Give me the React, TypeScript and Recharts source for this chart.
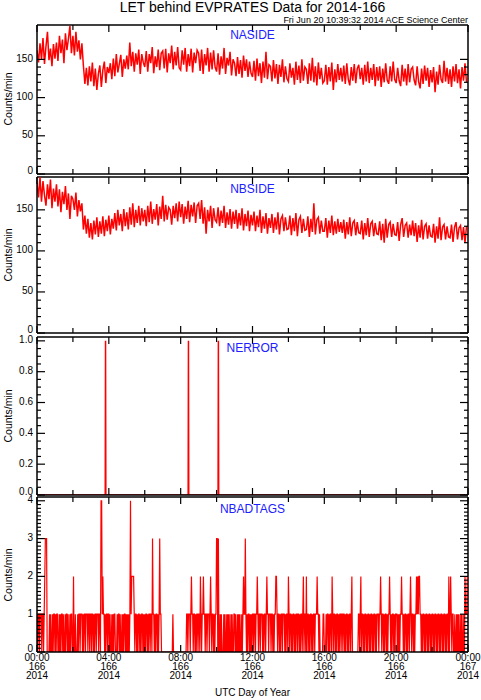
import React from "react";
import { Line, LineChart, ReferenceLine, XAxis, YAxis } from "recharts";

const WIDTH = 481;
const HEIGHT = 700;
const PLOT_LEFT = 37;
const PLOT_RIGHT = 468;
const PAD_TOP = 2;
const FONT = "'Liberation Sans', Arial, Helvetica, sans-serif";

const hourTicks = [0, 2, 4, 6, 8, 10, 12, 14, 16, 18, 20, 22, 24];
const hourLabels = ["00:00", "04:00", "08:00", "12:00", "16:00", "20:00", "00:00"];
const dayLabels = ["166", "166", "166", "166", "166", "166", "167"];
const yearLabels = ["2014", "2014", "2014", "2014", "2014", "2014", "2014"];

// NASIDE, 5 minute samples, one row per hour
const nasideByHour = [
  [162, 146, 171, 150, 178, 144, 167, 186, 149, 164, 141, 170],
  [151, 172, 148, 181, 158, 176, 145, 184, 162, 177, 194, 158],
  [181, 155, 186, 160, 175, 150, 171, 142, 118, 139, 116, 141],
  [121, 146, 115, 138, 110, 131, 142, 114, 136, 147, 119, 140],
  [132, 145, 124, 151, 128, 157, 133, 144, 156, 127, 150, 138],
  [155, 137, 172, 141, 160, 134, 158, 143, 163, 131, 157, 146],
  [140, 161, 134, 157, 145, 166, 132, 154, 140, 163, 136, 158],
  [161, 138, 164, 133, 158, 145, 168, 137, 160, 142, 166, 139],
  [136, 162, 143, 165, 134, 157, 141, 164, 133, 159, 145, 162],
  [158, 135, 163, 131, 157, 142, 165, 134, 159, 137, 162, 140],
  [134, 158, 130, 154, 138, 165, 131, 152, 142, 160, 129, 150],
  [145, 128, 153, 131, 149, 126, 155, 135, 150, 127, 147, 132],
  [127, 148, 122, 151, 128, 145, 119, 147, 126, 160, 124, 143],
  [141, 121, 149, 125, 144, 118, 143, 127, 150, 120, 141, 125],
  [121, 145, 126, 139, 117, 147, 123, 142, 119, 150, 122, 140],
  [137, 118, 145, 122, 152, 120, 141, 116, 146, 124, 139, 119],
  [122, 143, 117, 140, 121, 146, 110, 137, 120, 144, 123, 139],
  [121, 142, 118, 145, 124, 116, 140, 122, 144, 119, 138, 143],
  [124, 139, 117, 143, 121, 147, 119, 139, 123, 144, 115, 140],
  [122, 141, 114, 138, 120, 145, 123, 118, 141, 121, 147, 124],
  [119, 139, 122, 115, 143, 121, 138, 116, 144, 120, 137, 140],
  [123, 116, 141, 121, 112, 138, 118, 142, 122, 139, 114, 136],
  [120, 140, 107, 134, 117, 143, 124, 119, 148, 121, 139, 118],
  [137, 114, 141, 121, 144, 119, 137, 112, 140, 122, 145, 120],
];

// NBSIDE, 5 minute samples, one row per hour
const nbsideByHour = [
  [183, 165, 190, 160, 185, 168, 155, 181, 163, 187, 152, 176],
  [160, 181, 154, 175, 147, 172, 157, 179, 150, 170, 139, 167],
  [163, 150, 171, 142, 162, 148, 158, 126, 143, 121, 139, 116],
  [134, 114, 137, 120, 141, 117, 136, 121, 142, 118, 138, 124],
  [143, 120, 139, 127, 146, 125, 150, 131, 145, 124, 151, 130],
  [147, 126, 153, 132, 158, 129, 150, 134, 155, 131, 152, 136],
  [150, 130, 155, 135, 160, 133, 151, 138, 157, 131, 154, 139],
  [167, 136, 156, 138, 153, 150, 132, 155, 140, 158, 136, 160],
  [141, 157, 133, 154, 139, 161, 135, 156, 142, 159, 134, 155],
  [158, 139, 162, 133, 153, 121, 150, 136, 155, 128, 152, 138],
  [135, 153, 130, 149, 134, 155, 128, 147, 132, 151, 127, 148],
  [133, 150, 127, 146, 131, 152, 125, 145, 130, 149, 124, 144],
  [131, 148, 124, 143, 129, 150, 122, 142, 127, 146, 121, 140],
  [128, 145, 122, 141, 126, 147, 120, 139, 143, 124, 141, 126],
  [127, 143, 119, 140, 124, 146, 118, 138, 142, 122, 139, 125],
  [126, 142, 117, 139, 123, 158, 120, 138, 141, 121, 137, 124],
  [124, 140, 116, 137, 122, 143, 119, 136, 121, 139, 123, 135],
  [122, 138, 115, 135, 120, 141, 118, 134, 137, 119, 135, 122],
  [121, 137, 114, 134, 119, 140, 117, 133, 136, 118, 134, 121],
  [120, 136, 113, 133, 110, 139, 116, 132, 135, 117, 133, 120],
  [119, 135, 112, 132, 140, 117, 131, 134, 116, 132, 119, 137],
  [118, 134, 111, 131, 116, 138, 114, 130, 133, 115, 131, 118],
  [117, 133, 110, 130, 115, 141, 113, 129, 132, 114, 130, 117],
  [116, 132, 111, 129, 135, 114, 128, 131, 113, 129, 110, 130],
];

// NERROR is zero except for these minutes of the day
const nerrorSpikeMinutes = [229, 506, 606];

// NBADTAGS, 2 minute samples, one string per hour
const nbadtagsByHour = [
  "101101110110123330000101001011",
  "010110010101101001011010010110",
  "020010001011011101011011101101",
  "101101011011101104412110101101",
  "101001010110001011010010101101",
  "01010141222210110101101011010",
  "101101011011031101011010131100",
  "000000000000000001000000000000",
  "000000000011011101211011010110",
  "110210112110110111012101101011",
  "330300101000101001010100101001",
  "101001010100101211310101101010",
  "110110112101101110101101211011",
  "101101011221011010110111010110",
  "210110101101011011010110120110",
  "201101011010110111211010000011",
  "000101101011021011010110101101",
  "101101011010110120000000000110",
  "120110101101011010110101101011",
  "101121011010110101121010110101",
  "110101011211010110101101210110",
  "101121212211010110101101011010",
  "110101101011010110101101011020",
  "121011001001010100101001021112",
];

const rowsToSeries = (rows: number[][]) =>
  rows.flatMap((row, h) => row.map((v, i) => ({ t: h + i / row.length, v })));

const nasideData = rowsToSeries(nasideByHour);
const nbsideData = rowsToSeries(nbsideByHour);
const nbadtagsData = rowsToSeries(nbadtagsByHour.map((s) => s.split("").map(Number)));
const nerrorData = [
  { t: 0, v: 0 },
  ...nerrorSpikeMinutes.flatMap((m) => [
    { t: (m - 1) / 60, v: 0 },
    { t: m / 60, v: 1 },
    { t: (m + 1) / 60, v: 0 },
  ]),
  { t: 24, v: 0 },
];

const steps = (max: number, step: number) =>
  Array.from({ length: Math.round(max / step) + 1 }, (_, i) => Number((i * step).toFixed(3)));

type PanelProps = {
  top: number;
  plotHeight: number;
  data: { t: number; v: number }[];
  domain: [number, number];
  majors: number[];
  minorStep: number;
  digits: number;
  strokeWidth: number;
  showTime?: boolean;
};

const Panel = ({ top, plotHeight, data, domain, majors, minorStep, digits, strokeWidth, showTime }: PanelProps) => {
  const bottomH = showTime ? 45 : 8;
  const plotTop = PAD_TOP;
  const plotBottom = PAD_TOP + plotHeight;
  const yTicks = steps(majors[majors.length - 1], minorStep);

  const xTick = (props: any) => {
    const { x, payload } = props;
    const v = payload.value;
    const major = v % 4 === 0;
    const len = major ? 7 : 5;
    const k = v / 4;
    return (
      <g>
        <line x1={x} x2={x} y1={plotBottom} y2={plotBottom - len} stroke="#000" strokeWidth={1.2} />
        <line x1={x} x2={x} y1={plotTop} y2={plotTop + len} stroke="#000" strokeWidth={1.2} />
        {showTime && major && (
          <text x={x} textAnchor="middle" fontSize={10} fill="#000" fontFamily={FONT}>
            <tspan x={x} y={plotBottom + 9}>{hourLabels[k]}</tspan>
            <tspan x={x} y={plotBottom + 18}>{dayLabels[k]}</tspan>
            <tspan x={x} y={plotBottom + 27}>{yearLabels[k]}</tspan>
          </text>
        )}
      </g>
    );
  };

  const yTick = (props: any) => {
    const { y, payload } = props;
    const v = payload.value;
    const major = majors.some((m) => Math.abs(m - v) < 1e-6);
    const len = major ? 8 : 4;
    // the bottom label sits a little above its tick, as in the original
    const dy = v === 0 ? 0 : 2.5;
    return (
      <g>
        <line x1={PLOT_LEFT} x2={PLOT_LEFT + len} y1={y} y2={y} stroke="#000" strokeWidth={1.2} />
        <line x1={PLOT_RIGHT} x2={PLOT_RIGHT - len} y1={y} y2={y} stroke="#000" strokeWidth={1.2} />
        {major && (
          <text x={PLOT_LEFT - 4} y={y + dy} textAnchor="end" fontSize={10} fill="#000" fontFamily={FONT}>
            {v.toFixed(digits)}
          </text>
        )}
      </g>
    );
  };

  return (
    <div style={{ position: "absolute", left: 0, top: top - PAD_TOP }}>
      <LineChart
        width={WIDTH}
        height={PAD_TOP + plotHeight + bottomH}
        data={data}
        margin={{ top: PAD_TOP, right: WIDTH - PLOT_RIGHT, bottom: 0, left: 0 }}
      >
        <XAxis
          dataKey="t"
          type="number"
          domain={[0, 24]}
          allowDataOverflow
          ticks={hourTicks}
          interval={0}
          tick={xTick}
          tickLine={false}
          height={bottomH}
          axisLine={{ stroke: "#000", strokeWidth: 1.5 }}
        />
        <YAxis
          type="number"
          domain={domain}
          allowDataOverflow
          ticks={yTicks}
          interval={0}
          tick={yTick}
          tickLine={false}
          width={PLOT_LEFT}
          axisLine={{ stroke: "#000", strokeWidth: 1.5 }}
        />
        <ReferenceLine y={domain[1]} stroke="#000" strokeWidth={1.5} />
        <ReferenceLine x={24} stroke="#000" strokeWidth={1.5} />
        <Line
          dataKey="v"
          type="linear"
          stroke="#ff0000"
          strokeWidth={strokeWidth}
          dot={false}
          isAnimationActive={false}
        />
      </LineChart>
    </div>
  );
};

const panelNames = [
  { name: "NASIDE", y: 39, mid: 99 },
  { name: "NBSIDE", y: 193, mid: 255 },
  { name: "NERROR", y: 352, mid: 416 },
  { name: "NBADTAGS", y: 513, mid: 575 },
];

const App = () => {
  const centerX = (PLOT_LEFT + PLOT_RIGHT) / 2;
  return (
    <div
      style={{
        position: "absolute",
        left: 0,
        top: 0,
        width: WIDTH,
        height: HEIGHT,
        background: "#fff",
        fontFamily: FONT,
      }}
    >
      <Panel top={25} plotHeight={149} data={nasideData} domain={[0, 195]} majors={[0, 50, 100, 150]} minorStep={10} digits={0} strokeWidth={1.5} />
      <Panel top={177} plotHeight={156} data={nbsideData} domain={[0, 190]} majors={[0, 50, 100, 150]} minorStep={10} digits={0} strokeWidth={1.5} />
      <Panel top={337} plotHeight={158} data={nerrorData} domain={[0, 1.025]} majors={[0, 0.2, 0.4, 0.6, 0.8, 1]} minorStep={0.05} digits={1} strokeWidth={1.5} />
      <Panel top={497} plotHeight={155} data={nbadtagsData} domain={[0, 4.1]} majors={[0, 1, 2, 3, 4]} minorStep={0.1} digits={0} strokeWidth={1.2} showTime />
      <svg
        width={WIDTH}
        height={HEIGHT}
        style={{ position: "absolute", left: 0, top: 0, pointerEvents: "none" }}
      >
        <text x={centerX} y={12} textAnchor="middle" fontSize={14} fill="#000" fontFamily={FONT}>
          LET behind EVPRATES Data for 2014-166
        </text>
        <text x={PLOT_RIGHT} y={23} textAnchor="end" fontSize={9} fill="#000" fontFamily={FONT}>
          Fri Jun 20 10:39:32 2014 ACE Science Center
        </text>
        {panelNames.map((p) => (
          <g key={p.name}>
            <text x={centerX} y={p.y} textAnchor="middle" fontSize={12} fill="#2020ff" fontFamily={FONT}>
              {p.name}
            </text>
            <text
              x={11.5}
              y={p.mid}
              transform={`rotate(-90 11.5 ${p.mid})`}
              textAnchor="middle"
              fontSize={10.5}
              fill="#000"
              fontFamily={FONT}
            >
              Counts/min
            </text>
          </g>
        ))}
        <text x={centerX} y={696} textAnchor="middle" fontSize={10} fill="#000" fontFamily={FONT}>
          UTC Day of Year
        </text>
      </svg>
    </div>
  );
};

export default App;
